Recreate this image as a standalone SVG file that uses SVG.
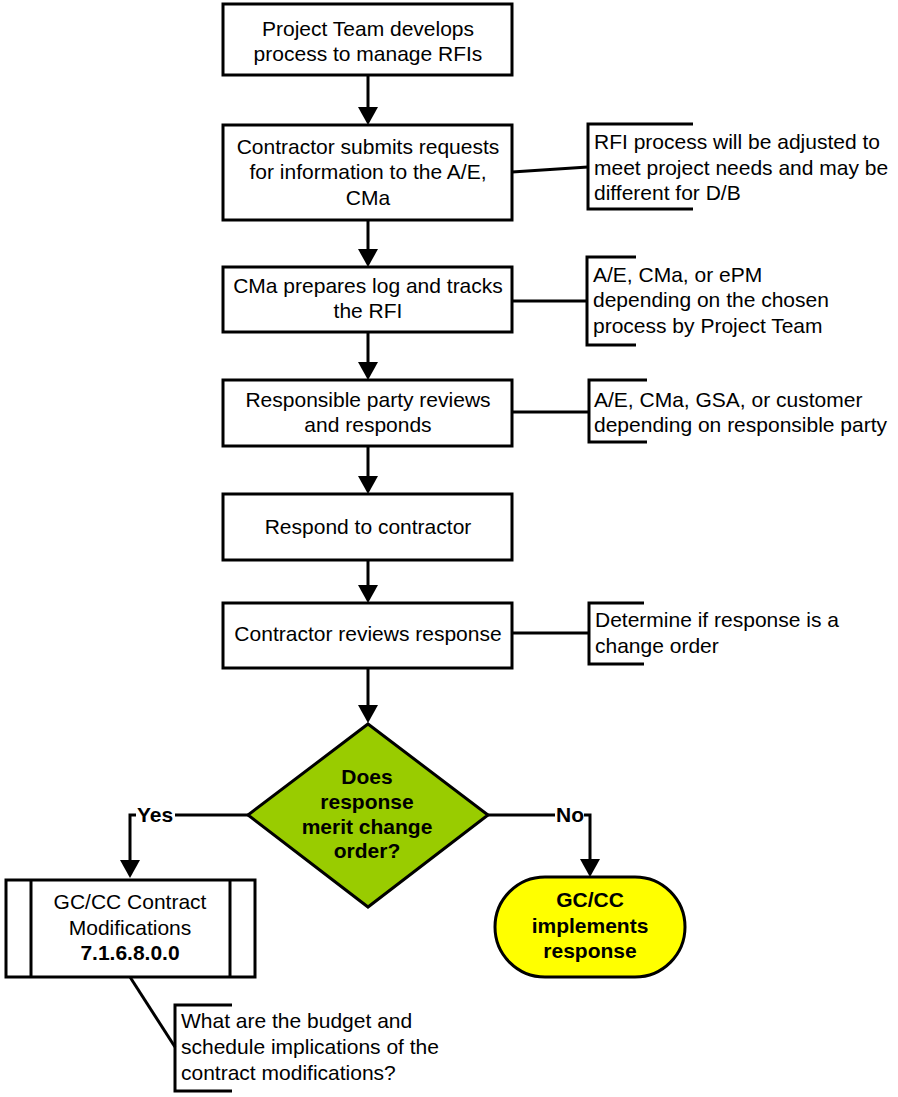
<svg xmlns="http://www.w3.org/2000/svg" width="898" height="1097" viewBox="0 0 898 1097">
<style>
  .box{fill:#fff;stroke:#000;stroke-width:3}
  .ln{fill:none;stroke:#000;stroke-width:3}
  .t{font-family:"Liberation Sans",Arial,sans-serif;font-size:21px;fill:#000}
  .c{text-anchor:middle}
  .b{font-weight:bold}
</style>
<defs>
  <marker id="arr" markerUnits="userSpaceOnUse" markerWidth="20" markerHeight="20" viewBox="0 0 18 20" refX="10" refY="10" orient="auto">
    <path d="M0,0 L18,10 L0,20 z" fill="#000"/>
  </marker>
</defs>
<rect width="898" height="1097" fill="#fff"/>

<g id="connectors">
  <line class="ln" x1="368" y1="75" x2="368" y2="117" marker-end="url(#arr)"/>
  <line class="ln" x1="368" y1="220" x2="368" y2="259" marker-end="url(#arr)"/>
  <line class="ln" x1="368" y1="332" x2="368" y2="372" marker-end="url(#arr)"/>
  <line class="ln" x1="368" y1="446" x2="368" y2="486" marker-end="url(#arr)"/>
  <line class="ln" x1="368" y1="560" x2="368" y2="595" marker-end="url(#arr)"/>
  <line class="ln" x1="368" y1="668" x2="368" y2="715" marker-end="url(#arr)"/>
  <path class="ln" d="M248,815 H130 V870" marker-end="url(#arr)"/>
  <path class="ln" d="M488,815 H590 V869" marker-end="url(#arr)"/>
  <rect x="136" y="803" width="39" height="24" fill="#fff"/>
  <text class="t b" x="137" y="822" font-size="20">Yes</text>
  <rect x="555" y="803" width="29" height="24" fill="#fff"/>
  <text class="t b" x="556" y="822" font-size="20">No</text>
  <line class="ln" x1="512" y1="172" x2="588" y2="167"/>
  <line class="ln" x1="512" y1="301" x2="587" y2="301"/>
  <line class="ln" x1="512" y1="412" x2="589" y2="412"/>
  <line class="ln" x1="512" y1="633" x2="589" y2="633"/>
  <line class="ln" x1="130" y1="977" x2="175" y2="1047"/>
</g>

<g id="n1">
  <rect class="box" x="223" y="4" width="289" height="71"/>
  <text class="t c" x="368" y="36">Project Team develops</text>
  <text class="t c" x="368" y="61">process to manage RFIs</text>
</g>
<g id="n2">
  <rect class="box" x="223" y="125" width="289" height="95"/>
  <text class="t c" x="368" y="154">Contractor submits requests</text>
  <text class="t c" x="368" y="179">for information to the A/E,</text>
  <text class="t c" x="368" y="205">CMa</text>
</g>
<g id="n3">
  <rect class="box" x="223" y="267" width="289" height="65"/>
  <text class="t c" x="368" y="293">CMa prepares log and tracks</text>
  <text class="t c" x="368" y="318">the RFI</text>
</g>
<g id="n4">
  <rect class="box" x="223" y="380" width="289" height="66"/>
  <text class="t c" x="368" y="407">Responsible party reviews</text>
  <text class="t c" x="368" y="432">and responds</text>
</g>
<g id="n5">
  <rect class="box" x="223" y="494" width="289" height="66"/>
  <text class="t c" x="368" y="534">Respond to contractor</text>
</g>
<g id="n6">
  <rect class="box" x="223" y="603" width="289" height="65"/>
  <text class="t c" x="368" y="641">Contractor reviews response</text>
</g>
<g id="decision">
  <polygon points="368,724 488,815 368,907 248,815" fill="#99CC00" stroke="#000" stroke-width="3"/>
  <text class="t c b" x="367" y="784">Does</text>
  <text class="t c b" x="367" y="809">response</text>
  <text class="t c b" x="367" y="834">merit change</text>
  <text class="t c b" x="367" y="858">order?</text>
</g>
<g id="n7">
  <rect class="box" x="6" y="880" width="249" height="97"/>
  <line class="ln" x1="31" y1="880" x2="31" y2="977"/>
  <line class="ln" x1="230" y1="880" x2="230" y2="977"/>
  <text class="t c" x="130" y="909">GC/CC Contract</text>
  <text class="t c" x="130" y="935">Modifications</text>
  <text class="t c b" x="130" y="960">7.1.6.8.0.0</text>
</g>
<g id="n8">
  <rect x="495" y="877" width="190" height="100" rx="50" ry="50" fill="#FFFF00" stroke="#000" stroke-width="3"/>
  <text class="t c b" x="590" y="907">GC/CC</text>
  <text class="t c b" x="590" y="933">implements</text>
  <text class="t c b" x="590" y="958">response</text>
</g>

<g id="a1">
  <path class="ln" d="M693,124 H588 V209 H693"/>
  <text class="t" x="594" y="149">RFI process will be adjusted to</text>
  <text class="t" x="594" y="175">meet project needs and may be</text>
  <text class="t" x="594" y="200">different for D/B</text>
</g>
<g id="a2">
  <path class="ln" d="M636,257 H587 V345 H636"/>
  <text class="t" x="593" y="282">A/E, CMa, or ePM</text>
  <text class="t" x="593" y="307">depending on the chosen</text>
  <text class="t" x="593" y="333">process by Project Team</text>
</g>
<g id="a3">
  <path class="ln" d="M647,380 H589 V442 H647"/>
  <text class="t" x="594" y="407">A/E, CMa, GSA, or customer</text>
  <text class="t" x="594" y="432">depending on responsible party</text>
</g>
<g id="a4">
  <path class="ln" d="M644,603 H589 V664 H644"/>
  <text class="t" x="595" y="627">Determine if response is a</text>
  <text class="t" x="595" y="653">change order</text>
</g>
<g id="a5">
  <path class="ln" d="M232,1005 H175 V1091 H232"/>
  <text class="t" x="181" y="1028">What are the budget and</text>
  <text class="t" x="181" y="1054">schedule implications of the</text>
  <text class="t" x="181" y="1080">contract modifications?</text>
</g>
</svg>
